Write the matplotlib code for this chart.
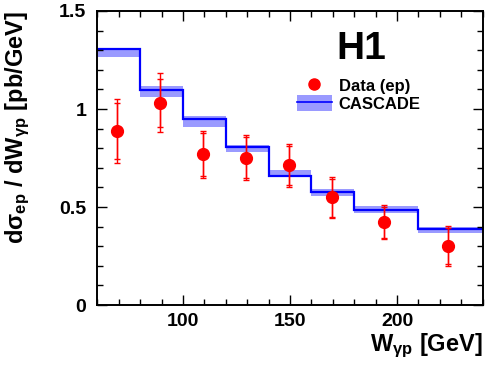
import matplotlib
matplotlib.use("Agg")
import matplotlib.pyplot as plt
from matplotlib.lines import Line2D
from matplotlib.patches import Patch
from matplotlib.ticker import MultipleLocator, FuncFormatter

plt.rcParams['font.family'] = ['Liberation Sans', 'DejaVu Sans']
plt.rcParams['font.weight'] = 'bold'
plt.rcParams['axes.labelweight'] = 'bold'
plt.rcParams['mathtext.fontset'] = 'custom'
plt.rcParams['mathtext.default'] = 'bf'
plt.rcParams['mathtext.bf'] = 'Liberation Sans:bold'
plt.rcParams['mathtext.rm'] = 'Liberation Sans:bold'
plt.rcParams['mathtext.it'] = 'Liberation Sans:bold'

# CASCADE prediction (bin edges, central value, band)
edges = [60, 80, 100, 120, 140, 160, 180, 210, 240]
casc = [1.305, 1.097, 0.949, 0.808, 0.660, 0.575, 0.483, 0.388]
casc_lo = [1.265, 1.060, 0.907, 0.779, 0.655, 0.556, 0.468, 0.369]
casc_hi = [1.310, 1.117, 0.964, 0.816, 0.689, 0.592, 0.505, 0.400]

# H1 data
w = [69.3, 89.2, 109.5, 129.5, 149.6, 169.5, 194.0, 223.9]
xs = [0.888, 1.032, 0.769, 0.752, 0.714, 0.551, 0.425, 0.303]
tot_up = [1.049, 1.182, 0.889, 0.867, 0.823, 0.655, 0.512, 0.403]
tot_dn = [0.726, 0.884, 0.646, 0.636, 0.600, 0.442, 0.337, 0.200]
stat_up = [1.029, 1.153, 0.879, 0.859, 0.811, 0.643, 0.502, 0.395]
stat_dn = [0.746, 0.910, 0.658, 0.646, 0.612, 0.450, 0.342, 0.208]

fig = plt.figure(figsize=(4.98, 3.78), dpi=100)
ax = fig.add_axes([0.1954, 0.1931, 0.7739, 0.7778])

band_col = '#9a9aff'
ax.stairs(casc_hi, edges, baseline=casc_lo, fill=True, color=band_col, lw=0)
ax.stairs(casc, edges, color='#0000ff', lw=1.6, baseline=None)

ax.errorbar(w, xs, yerr=[[a - b for a, b in zip(xs, tot_dn)], [b - a for a, b in zip(xs, tot_up)]],
            fmt='none', ecolor='red', elinewidth=1.0, capsize=2.5, capthick=1.0)
ax.errorbar(w, xs, yerr=[[a - b for a, b in zip(xs, stat_dn)], [b - a for a, b in zip(xs, stat_up)]],
            fmt='o', color='red', ms=8.5, ecolor='red', elinewidth=1.0, capsize=2.5, capthick=1.0)

ax.set_xlim(60, 240)
ax.set_ylim(0, 1.5)
ax.xaxis.set_major_locator(MultipleLocator(50))
ax.xaxis.set_minor_locator(MultipleLocator(10))
ax.yaxis.set_major_locator(MultipleLocator(0.5))
ax.yaxis.set_minor_locator(MultipleLocator(0.1))
ax.yaxis.set_major_formatter(FuncFormatter(lambda v, p: '%g' % v))
ax.tick_params(which='both', direction='in', top=True, right=True, width=1.0, labelsize=14)
ax.tick_params(which='major', length=7)
ax.tick_params(which='minor', length=4)
ax.tick_params(axis='y', pad=8)
ax.tick_params(axis='x', pad=6)
for s in ax.spines.values():
    s.set_linewidth(1.4)

ax.set_xlabel(r'W$_{\gamma p}$ [GeV]', fontsize=17, fontweight='bold', loc='right')
ax.xaxis.set_label_coords(1.0, -0.09)
ax.set_ylabel(r'd$\sigma_{ep}$ / dW$_{\gamma p}$ [pb/GeV]', fontsize=17, fontweight='bold', loc='top')
ax.yaxis.set_label_coords(-0.17, 1.0)

ax.text(0.685, 0.871, 'H1', transform=ax.transAxes, fontsize=28, fontweight='bold',
        ha='center', va='center')

h_data = Line2D([], [], marker='o', ls='none', color='red', ms=8)
h_casc = (Patch(facecolor=band_col, lw=0), Line2D([], [], color='#0000ff', lw=1.2))
ax.legend([h_data, h_casc], ['Data (ep)', 'CASCADE'], loc='upper left',
          bbox_to_anchor=(0.518, 0.775), frameon=False, fontsize=12, borderpad=0,
          handlelength=2.1, handleheight=1.1, handletextpad=0.4, labelspacing=0.1,
          borderaxespad=0)

fig.savefig('out.png', dpi=100)
